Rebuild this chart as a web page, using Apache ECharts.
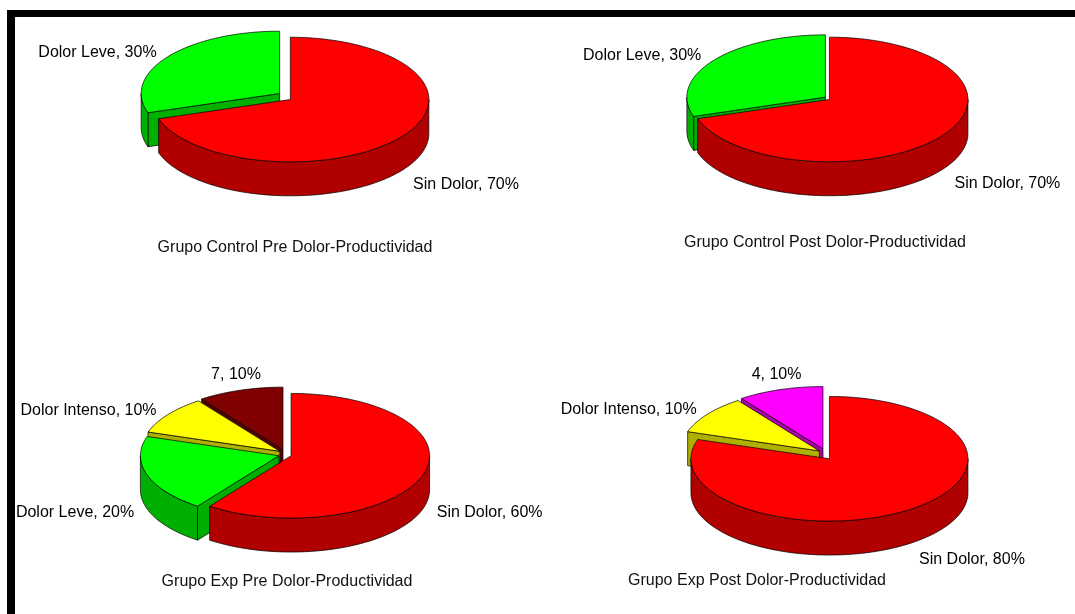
<!DOCTYPE html>
<html>
<head>
<meta charset="utf-8">
<script src="https://cdn.jsdelivr.net/npm/echarts@6/dist/echarts.min.js"></script>
<style>
html, body { margin: 0; padding: 0; background: #fff; }
#chart { width: 1075px; height: 614px; }
</style>
</head>
<body>
<div id="chart"></div>
<script>
// Categories and values of the four groups
const controlPreNames = ['Sin Dolor', 'Dolor Leve'];
const controlPreValues = [70, 30];
const controlPostNames = ['Sin Dolor', 'Dolor Leve'];
const controlPostValues = [70, 30];
const expPreNames = ['Sin Dolor', 'Dolor Leve', 'Dolor Intenso', '7'];
const expPreValues = [60, 20, 10, 10];
const expPostNames = ['Sin Dolor', 'Dolor Intenso', '4'];
const expPostValues = [80, 10, 10];
const groupTitles = [
  'Grupo Control Pre Dolor-Productividad',
  'Grupo Control Post Dolor-Productividad',
  'Grupo Exp Pre Dolor-Productividad',
  'Grupo Exp Post Dolor-Productividad'
];

// Slice colours: top face and the darker extruded side
const topColors = {
  'Sin Dolor': '#FF0000', 'Dolor Leve': '#00FF00', 'Dolor Intenso': '#FFFF00',
  '7': '#800000', '4': '#FF00FF'
};
const sideColors = {
  'Sin Dolor': '#B00000', 'Dolor Leve': '#00B000', 'Dolor Intenso': '#B0B000',
  '7': '#560000', '4': '#B000B0'
};

// Placement of each tilted pie, its caption and the nudge of each slice label
const pies = [
  { names: controlPreNames, values: controlPreValues, cx: 285, cy: 96.5, explode: 6.6,
    title: groupTitles[0], tx: 295, ty: 248, labelShift: [[10.7, 14], [-11, -4.2]] },
  { names: controlPostNames, values: controlPostValues, cx: 827.4, cy: 98.3, explode: 2.5,
    title: groupTitles[1], tx: 825, ty: 243, labelShift: [[13, 14], [-12, -5.2]] },
  { names: expPreNames, values: expPreValues, cx: 285, cy: 454.2, explode: 6.4,
    title: groupTitles[2], tx: 287, ty: 582, labelShift: [[13.9, 4], [-13, 4], [-11.2, -4.4], [-4.2, -15.2]] },
  { names: expPostNames, values: expPostValues, cx: 825.2, cy: 454.2, explode: 7.2,
    title: groupTitles[3], tx: 757, ty: 581, labelShift: [[8.2, 16], [-10.6, -4.3], [-3.6, -14.6]] }
];
const RX = 138.5, RY = 62.3, DEPTH = 34;
const FONT = '"Liberation Sans", Arial, sans-serif';

function rad(d) { return d * Math.PI / 180; }

function makeRender(pie) {
  const total = pie.values.reduce((a, b) => a + b, 0);
  const starts = [];
  let acc = 0;
  pie.values.forEach(v => { starts.push(acc / total * 360); acc += v; });

  return function (params, api) {
    const i = params.dataIndex;
    const v = api.value(0);
    const name = pie.names[i];
    const s = starts[i];
    const e = s + v / total * 360;
    const m = (s + e) / 2;
    // exploded slice centre
    const cx = pie.cx + pie.explode * Math.sin(rad(m));
    const cy = pie.cy - pie.explode * Math.cos(rad(m)) * 0.78;
    const pt = (a, dz) => [cx + RX * Math.sin(rad(a)), cy - RY * Math.cos(rad(a)) + dz];
    const arc = (a0, a1, dz) => {
      const n = Math.max(2, Math.ceil(Math.abs(a1 - a0) / 2));
      const out = [];
      for (let k = 0; k <= n; k++) out.push(pt(a0 + (a1 - a0) * k / n, dz));
      return out;
    };
    const edge = { stroke: '#000', lineWidth: 0.7, lineJoin: 'round' };
    const children = [];
    // nearer faces (lower on the page) are painted later
    const faceZ = ang => 1 + (1 - Math.cos(rad(ang))) / 4;

    // radial cut faces that turn toward the viewer
    if (Math.sin(rad(s)) < -1e-6) {
      children.push({
        type: 'polygon', z2: faceZ(s),
        shape: { points: [[cx, cy], pt(s, 0), pt(s, DEPTH), [cx, cy + DEPTH]] },
        style: Object.assign({ fill: sideColors[name] }, edge)
      });
    }
    if (Math.sin(rad(e)) > 1e-6) {
      children.push({
        type: 'polygon', z2: faceZ(e),
        shape: { points: [[cx, cy], pt(e, 0), pt(e, DEPTH), [cx, cy + DEPTH]] },
        style: Object.assign({ fill: sideColors[name] }, edge)
      });
    }
    // outer rim on the front half
    const a = Math.max(s, 90), b = Math.min(e, 270);
    if (a < b) {
      children.push({
        type: 'polygon', z2: 2,
        shape: { points: arc(a, b, 0).concat(arc(b, a, DEPTH)) },
        style: Object.assign({ fill: sideColors[name] }, edge)
      });
    }
    // top face
    children.push({
      type: 'polygon', z2: 3,
      shape: { points: [[cx, cy]].concat(arc(s, e, 0)) },
      style: Object.assign({ fill: topColors[name] }, edge)
    });

    // data label outside the slice
    const sn = Math.sin(rad(m)), cs = -Math.cos(rad(m));
    const anchor = pt(m, cs > 0 ? DEPTH : 0);
    const shift = pie.labelShift[i];
    children.push({
      type: 'text', z2: 10,
      x: anchor[0] + shift[0],
      y: anchor[1] + shift[1],
      style: {
        text: name + ', ' + Math.round(v / total * 100) + '%',
        fill: '#000',
        fontSize: 16,
        fontFamily: FONT,
        align: sn > 0.4 ? 'left' : (sn < -0.4 ? 'right' : 'center'),
        verticalAlign: 'middle'
      }
    });

    return { type: 'group', children: children };
  };
}

const chart = echarts.init(document.getElementById('chart'), null, { renderer: 'canvas' });

const graphic = [
  { type: 'rect', shape: { x: 7, y: 10, width: 1075, height: 7 }, style: { fill: '#000' } },
  { type: 'rect', shape: { x: 7, y: 10, width: 8, height: 620 }, style: { fill: '#000' } }
].concat(pies.map(p => ({
  type: 'text', x: p.tx, y: p.ty,
  style: {
    text: p.title, fill: '#111', fontSize: 16, fontFamily: FONT,
    align: 'center', verticalAlign: 'middle'
  }
})));

chart.setOption({
  backgroundColor: '#fff',
  animation: false,
  graphic: graphic,
  series: pies.map(p => ({
    type: 'custom',
    coordinateSystem: 'none',
    silent: true,
    renderItem: makeRender(p),
    data: p.values.map(v => [v])
  }))
});
</script>
</body>
</html>
